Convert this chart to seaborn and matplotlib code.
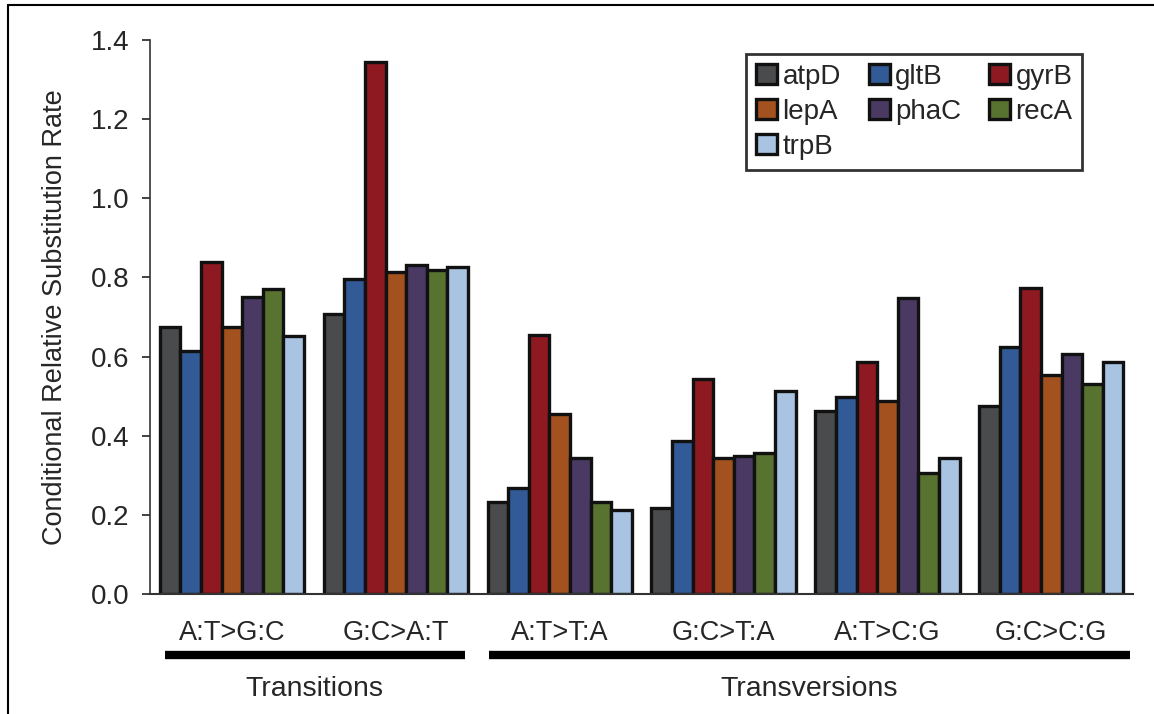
import numpy as np
import pandas as pd
import seaborn as sns
import matplotlib.pyplot as plt
from matplotlib.lines import Line2D
import matplotlib.transforms as mtransforms

# substitution types and genes
categories = ["A:T>G:C", "G:C>A:T", "A:T>T:A", "G:C>T:A", "A:T>C:G", "G:C>C:G"]
genes = ["atpD", "gltB", "gyrB", "lepA", "phaC", "recA", "trpB"]

atpD = [0.676, 0.707, 0.232, 0.217, 0.462, 0.474]
gltB = [0.614, 0.796, 0.268, 0.386, 0.499, 0.623]
gyrB = [0.838, 1.345, 0.655, 0.543, 0.587, 0.774]
lepA = [0.676, 0.815, 0.455, 0.343, 0.487, 0.554]
phaC = [0.751, 0.832, 0.343, 0.350, 0.749, 0.606]
recA = [0.771, 0.820, 0.232, 0.356, 0.306, 0.531]
trpB = [0.651, 0.827, 0.212, 0.512, 0.343, 0.587]

groups = ["Transitions", "Transversions"]
group_spans = [(0, 1), (2, 5)]

colors = ["#4a4b4d", "#325a96", "#8e1920", "#a2511f", "#4a3a63", "#58722f", "#a8c4e2"]

series = [atpD, gltB, gyrB, lepA, phaC, recA, trpB]
df = pd.DataFrame({
    "category": np.tile(categories, len(genes)),
    "gene": np.repeat(genes, len(categories)),
    "rate": np.concatenate(series),
})

sns.set_style("white")
plt.rcParams['font.family'] = ['Liberation Sans', 'DejaVu Sans']

fig = plt.figure(figsize=(11.54, 7.14), dpi=100)
ax = fig.add_axes([0.130, 0.168, 0.852, 0.776])

sns.barplot(data=df, x="category", y="rate", hue="gene", order=categories,
            hue_order=genes, palette=colors, width=0.88, edgecolor="#111111",
            linewidth=2.4, saturation=1, ax=ax)

ax.set_ylim(0, 1.4)
ax.set_xlim(-0.5, 5.5)
ax.set_yticks(np.arange(0, 1.41, 0.2))
ax.set_yticklabels([f"{v:.1f}" for v in np.arange(0, 1.41, 0.2)])
ax.set_ylabel("Conditional Relative Substitution Rate", fontsize=19.5, labelpad=16)
ax.set_xlabel("")
ax.tick_params(axis="y", direction="out", length=6, width=1.2, color="#222222",
               labelsize=20, pad=9, left=True)
ax.tick_params(axis="x", length=0, labelsize=19.5, pad=19)

sns.despine(ax=ax, top=True, right=True)
ax.spines["left"].set_color("#333333")
ax.spines["left"].set_linewidth(1.2)
ax.spines["bottom"].set_color("#333333")
ax.spines["bottom"].set_linewidth(1.5)

# group brackets under the tick labels
trans = mtransforms.blended_transform_factory(ax.transData, ax.transAxes)
for name, (i0, i1) in zip(groups, group_spans):
    x0 = i0 - 0.41 if i0 == 0 else i0 - 0.43
    x1 = i1 + 0.42 if i1 < len(categories) - 1 else i1 + 0.48
    ax.add_line(Line2D([x0, x1], [-0.110, -0.110], transform=trans, color="black",
                       linewidth=6, solid_capstyle="butt", clip_on=False))
    ax.text((x0 + x1) / 2, -0.171, name, transform=trans, ha="center", va="center",
            fontsize=20.5)

# legend filled row by row (matplotlib fills by column)
handles, labels = ax.get_legend_handles_labels()
order = [0, 3, 6, 1, 4, 2, 5]
leg = ax.legend([handles[i] for i in order], [labels[i] for i in order],
                loc="upper right", bbox_to_anchor=(0.948, 0.975), ncol=3,
                fontsize=20, frameon=True, fancybox=False, handlelength=0.75,
                handleheight=0.75, handletextpad=0.2, columnspacing=1.0,
                labelspacing=0.33, borderpad=0.35, borderaxespad=0)
leg.get_frame().set_edgecolor("black")
leg.get_frame().set_linewidth(2)

# outer frame (cropped at right/bottom)
fig.add_artist(Line2D([8 / 1154, 1], [1 - 5 / 714, 1 - 5 / 714], color="black", linewidth=1.5))
fig.add_artist(Line2D([8 / 1154, 8 / 1154], [0, 1 - 5 / 714], color="black", linewidth=1.5))

fig.savefig("out.png", dpi=100)
